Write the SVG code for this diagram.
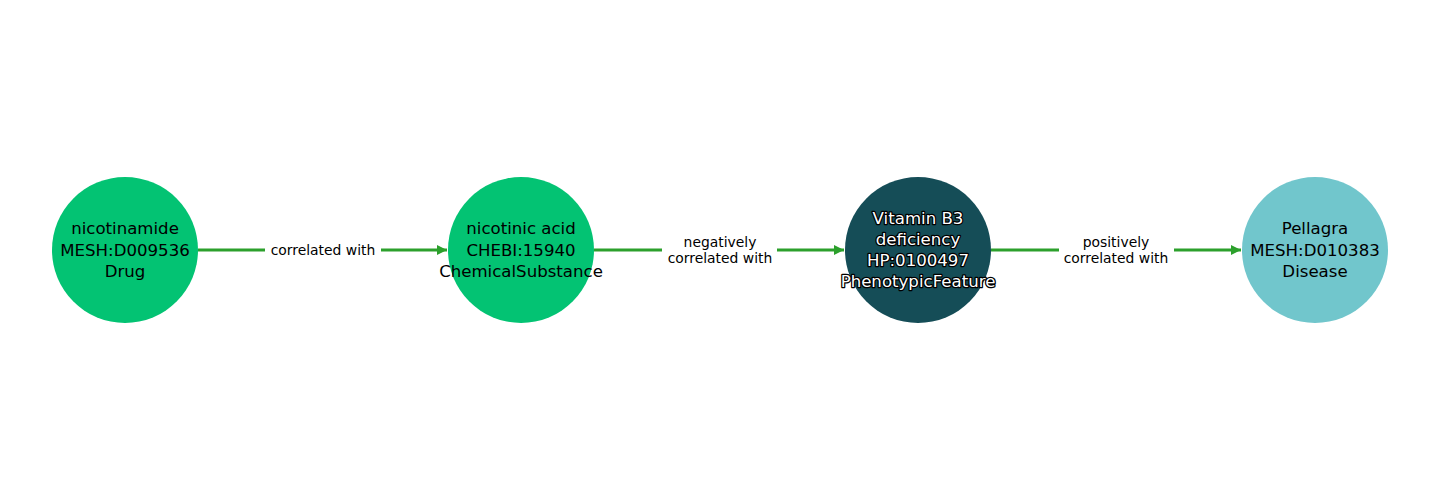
<svg xmlns="http://www.w3.org/2000/svg" width="1440" height="500" viewBox="0 0 1440 500">
<defs>
<marker id="arr" viewBox="0 0 10 10" refX="10" refY="5" markerWidth="3.2" markerHeight="3.2" orient="auto" markerUnits="strokeWidth">
<path d="M0,0 L10,5 L0,10 z" fill="#2ca02c"/>
</marker>
</defs>
<style>
.n text{font-family:"DejaVu Sans",sans-serif;font-size:16.6px;text-anchor:middle;fill:#000}
.n .w{fill:#fff;stroke:#000;stroke-width:2.5;paint-order:stroke;stroke-linejoin:round}
.e line{stroke:#2ca02c;stroke-width:3.2}
.e text{font-family:"DejaVu Sans",sans-serif;font-size:13.9px;text-anchor:middle;fill:#000}
.e rect{fill:#fff}
</style>
<rect width="1440" height="500" fill="#fff"/>
<g id="edges" class="e">
<line x1="198" y1="250" x2="447" y2="250" marker-end="url(#arr)"/>
<rect x="265" y="240" width="116" height="20"/>
<text x="323" y="254.8">correlated with</text>
<line x1="594" y1="250" x2="844" y2="250" marker-end="url(#arr)"/>
<rect x="662" y="232" width="115" height="36"/>
<text x="720" y="246.5">negatively</text>
<text x="720" y="262.5">correlated with</text>
<line x1="991" y1="250" x2="1241" y2="250" marker-end="url(#arr)"/>
<rect x="1059" y="232" width="115" height="36"/>
<text x="1116" y="246.5">positively</text>
<text x="1116" y="262.5">correlated with</text>
</g>
<g id="n1" class="n">
<circle cx="125" cy="250" r="73" fill="#03c373"/>
<text x="125" y="234">nicotinamide</text>
<text x="125" y="255.5">MESH:D009536</text>
<text x="125" y="276.5">Drug</text>
</g>
<g id="n2" class="n">
<circle cx="521" cy="250" r="73" fill="#03c373"/>
<text x="521" y="234">nicotinic acid</text>
<text x="521" y="255.5">CHEBI:15940</text>
<text x="521" y="276.5">ChemicalSubstance</text>
</g>
<g id="n3" class="n">
<circle cx="918" cy="250" r="73" fill="#154d57"/>
<text class="w" x="918" y="224">Vitamin B3</text>
<text class="w" x="918" y="245">deficiency</text>
<text class="w" x="918" y="266">HP:0100497</text>
<text class="w" x="918" y="287">PhenotypicFeature</text>
</g>
<g id="n4" class="n">
<circle cx="1315" cy="250" r="73" fill="#71c6cc"/>
<text x="1315" y="234">Pellagra</text>
<text x="1315" y="255.5">MESH:D010383</text>
<text x="1315" y="276.5">Disease</text>
</g>
</svg>
